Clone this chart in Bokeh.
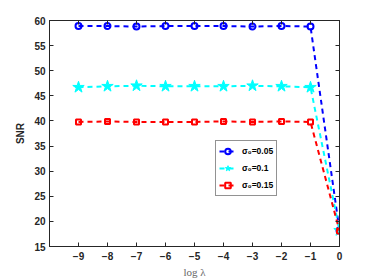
from bokeh.plotting import figure
from bokeh.models import FixedTicker, LinearAxis, Range1d, Legend, LegendItem, CustomJSTickFormatter
from bokeh.embed import file_html
from bokeh.resources import INLINE

x = [-9, -8, -7, -6, -5, -4, -3, -2, -1, 0]
snr_005 = [58.9, 58.9, 58.8, 58.9, 58.9, 58.9, 58.8, 58.9, 58.8, 18.2]
snr_01 = [46.7, 46.9, 47.0, 46.9, 46.9, 46.9, 47.0, 46.9, 46.7, 18.2]
snr_015 = [39.8, 39.9, 39.8, 39.8, 39.8, 39.9, 39.8, 39.9, 39.8, 18.1]
labels = ["σ₀=0.05", "σ₀=0.1", "σ₀=0.15"]
xticks = [-9, -8, -7, -6, -5, -4, -3, -2, -1, 0]
yticks = [15, 20, 25, 30, 35, 40, 45, 50, 55, 60]

p = figure(width=374, height=280, output_backend="svg", toolbar_location=None,
           x_range=Range1d(-10, 0), y_range=Range1d(15, 60),
           min_border_left=49, min_border_right=35, min_border_top=20, min_border_bottom=32)
p.xgrid.visible = False
p.ygrid.visible = False
p.outline_line_color = "#262626"
p.outline_line_width = 1

for ax in [p.xaxis[0], p.yaxis[0]]:
    ax.major_tick_in = 4
    ax.major_tick_out = 0
    ax.minor_tick_line_color = None
    ax.axis_line_color = "#262626"
    ax.major_tick_line_color = "#262626"
    ax.major_label_text_font = "Liberation Sans"
    ax.major_label_text_font_style = "bold"
    ax.major_label_text_font_size = "10px"
    ax.major_label_text_color = "#262626"
p.xaxis.ticker = FixedTicker(ticks=xticks)
p.yaxis.ticker = FixedTicker(ticks=yticks)
p.xaxis.major_label_standoff = 5
p.yaxis.major_label_standoff = 4
p.xaxis.axis_label = "log λ"
p.xaxis.axis_label_text_font = "Liberation Serif"
p.xaxis.axis_label_text_font_style = "normal"
p.xaxis.axis_label_text_font_size = "11px"
p.xaxis.axis_label_text_color = "#666666"
p.xaxis.axis_label_standoff = 3
p.yaxis.axis_label = "SNR"
p.yaxis.axis_label_text_font = "Liberation Sans"
p.yaxis.axis_label_text_font_style = "bold"
p.yaxis.axis_label_text_font_size = "10px"
p.yaxis.axis_label_text_color = "#262626"
p.yaxis.axis_label_standoff = 5

for loc, tk in [("right", yticks), ("above", xticks)]:
    a = LinearAxis(ticker=FixedTicker(ticks=tk),
                   formatter=CustomJSTickFormatter(code="return ''"),
                   major_tick_in=4, major_tick_out=0, minor_tick_line_color=None,
                   axis_line_color="#262626", major_tick_line_color="#262626",
                   major_label_standoff=0)
    p.add_layout(a, loc)

dash = "5 4"
r1l = p.line(x, snr_005, line_color="#0000ff", line_width=2, line_dash=dash)
r1m = p.scatter(x, snr_005, marker="circle", size=6, fill_color=None, line_color="#0000ff", line_width=2)
r2l = p.line(x, snr_01, line_color="#00ffff", line_width=2, line_dash=dash)
r2m = p.scatter(x, snr_01, marker="star", size=12, fill_color="#00ffff", line_color="#00ffff", line_width=1)
r3l = p.line(x, snr_015, line_color="#ff0000", line_width=2, line_dash=dash)
r3m = p.scatter(x, snr_015, marker="square", size=5, fill_color=None, line_color="#ff0000", line_width=2)

legend = Legend(items=[LegendItem(label=labels[0], renderers=[r1l, r1m]),
                       LegendItem(label=labels[1], renderers=[r2l, r2m]),
                       LegendItem(label=labels[2], renderers=[r3l, r3m])],
                location=(166, 50), orientation="vertical",
                label_text_font="Liberation Sans", label_text_font_style="bold",
                label_text_font_size="8.5px", label_text_color="#000000",
                glyph_width=17, glyph_height=14, label_height=14, spacing=3,
                label_standoff=6, padding=3, margin=0,
                border_line_color="#262626", border_line_width=1,
                background_fill_color="white", background_fill_alpha=1)
p.add_layout(legend, "center")

open("out.html", "w").write(file_html(p, INLINE))
